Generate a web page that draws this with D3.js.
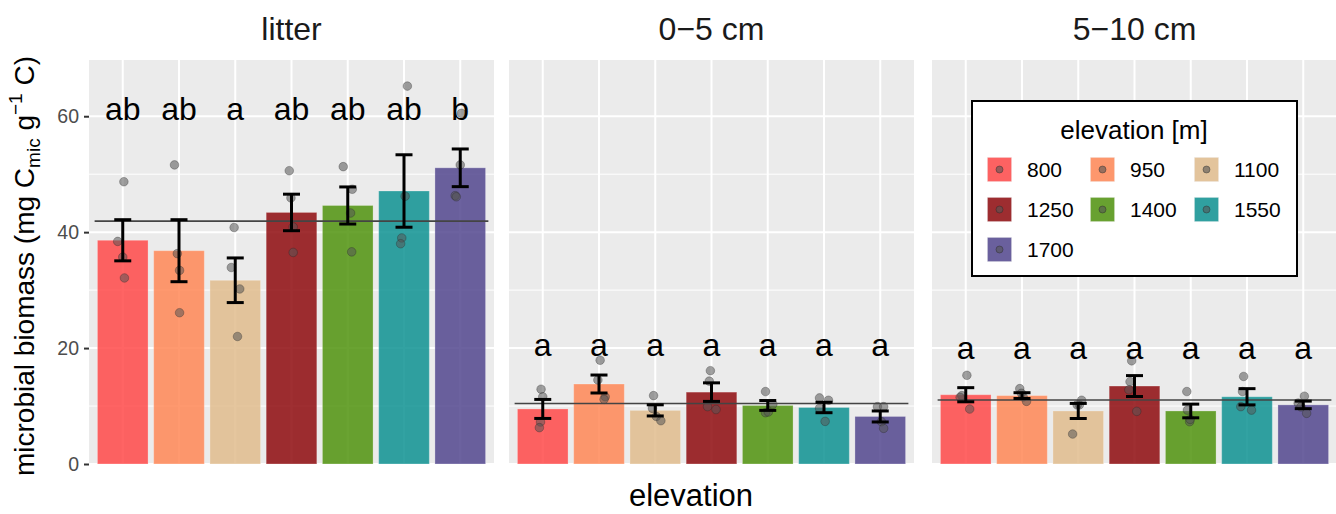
<!DOCTYPE html>
<html>
<head>
<meta charset="utf-8">
<style>
  body { margin: 0; background: #fff; }
  svg { font-family: "Liberation Sans", Arial, sans-serif; }
</style>
</head>
<body>
<svg id="chart" width="1336" height="514"></svg>
<script src="https://cdn.jsdelivr.net/npm/d3@7/dist/d3.min.js"></script>
<script>
// categories
const elevations = ["800", "950", "1100", "1250", "1400", "1550", "1700"]
const depths = ["litter", "0\u22125 cm", "5\u221210 cm"]
const colors = ["#ff4949", "#ff8756", "#e0bc8d", "#8e0a0e", "#50930e", "#0e9292", "#52468e"]

// bar means per depth
const meanLitter = [38.6, 36.8, 31.7, 43.4, 44.6, 47.1, 51.1]
const mean0to5 = [9.5, 13.8, 9.25, 12.4, 10.1, 9.75, 8.2]
const mean5to10 = [11.95, 11.8, 9.15, 13.45, 9.15, 11.6, 10.2]

// standard error (half height of the error bars)
const seLitter = [3.55, 5.35, 3.85, 3.15, 3.2, 6.25, 3.25]
const se0to5 = [1.64, 1.55, 0.96, 1.6, 0.85, 0.9, 0.95]
const se5to10 = [1.22, 0.5, 1.3, 1.8, 1.18, 1.4, 0.65]

// single replicates (4 per elevation)
const ptsLitter = [
    [48.7, 38.4, 35.7, 32.1], [51.6, 36.3, 33.4, 26.1], [40.8, 33.9, 30.2, 22.0],
    [50.6, 45.9, 40.9, 36.5], [51.3, 47.4, 43.3, 36.6], [65.2, 46.2, 39.0, 38.0],
    [60.5, 51.6, 46.3, 46.1]]
const pts0to5 = [
    [12.9, 11.6, 7.24, 6.27], [17.9, 14.5, 11.6, 11.15], [11.8, 9.6, 8.2, 7.47],
    [16.1, 14.3, 9.9, 9.4], [12.5, 10.3, 8.85, 8.97], [11.4, 11.0, 9.6, 7.35],
    [9.9, 9.9, 7.3, 6.15]]
const pts5to10 = [
    [15.3, 11.8, 11.5, 9.48], [13.0, 12.2, 10.8, 11.6], [11.0, 10.2, 10.2, 5.17],
    [17.8, 14.2, 12.8, 9.08], [12.5, 9.3, 7.3, 7.7], [15.1, 9.9, 9.3, 12.5],
    [11.7, 10.5, 8.74, 9.86]]
// horizontal jitter of the replicates (in category steps)
const jitLitter = [
    [0.02, -0.09, 0.0, 0.03], [-0.08, -0.03, 0.01, 0.01], [-0.02, -0.07, 0.08, 0.04],
    [-0.04, -0.01, 0.03, 0.03], [-0.08, 0.08, 0.05, 0.07], [0.06, 0.02, -0.04, -0.06],
    [0.02, 0.0, -0.09, -0.07]]
const jit0to5 = [
    [-0.03, 0.0, -0.04, -0.06], [0.02, -0.02, 0.11, 0.09], [-0.03, -0.05, 0.02, 0.1],
    [-0.02, -0.04, -0.07, 0.08], [-0.04, 0.09, -0.04, 0.01], [-0.08, 0.08, -0.08, 0.02],
    [-0.05, 0.06, 0.02, 0.06]]
const jit5to10 = [
    [0.02, -0.07, -0.1, 0.07], [-0.04, -0.01, 0.08, 0.02], [0.06, 0.02, -0.02, -0.1],
    [-0.05, -0.08, -0.1, 0.04], [-0.07, -0.06, -0.02, -0.01], [-0.06, -0.11, 0.08, -0.08],
    [0.02, -0.09, 0.06, -0.04]]

// significance letters and their height
const lettersLitter = ["ab", "ab", "a", "ab", "ab", "ab", "b"]
const letters0to5 = ["a", "a", "a", "a", "a", "a", "a"]
const letters5to10 = ["a", "a", "a", "a", "a", "a", "a"]
const letterY = [59.3, 18.7, 18.1]

const yTicks = [0, 20, 40, 60]

const panels = [
    { name: depths[0], mean: meanLitter, se: seLitter, pts: ptsLitter, jit: jitLitter, letters: lettersLitter },
    { name: depths[1], mean: mean0to5, se: se0to5, pts: pts0to5, jit: jit0to5, letters: letters0to5 },
    { name: depths[2], mean: mean5to10, se: se5to10, pts: pts5to10, jit: jit5to10, letters: letters5to10 }
]

let svg = d3.select("#chart")
let panelLeft = [89, 509, 932]
let panelWidth = 405
let panelTop = 60, panelBottom = 464

let y = d3.scaleLinear().domain([0, 69.7]).range([panelBottom, panelTop])
let colorScale = d3.scaleOrdinal().domain(elevations).range(colors)

panels.forEach((p, k) => {
    let x = d3.scalePoint()
        .domain(elevations)
        .range([panelLeft[k], panelLeft[k] + panelWidth])
        .padding(0.6)
    let step = x.step()
    let barW = step * 0.9
    let g = svg.append("g")

    g.append("rect")
        .attr("x", panelLeft[k]).attr("y", panelTop)
        .attr("width", panelWidth).attr("height", panelBottom - panelTop)
        .attr("fill", "#ebebeb")

    // minor grid
    g.selectAll(".minor").data([10, 30, 50]).enter().append("line")
        .attr("x1", panelLeft[k]).attr("x2", panelLeft[k] + panelWidth)
        .attr("y1", d => y(d)).attr("y2", d => y(d))
        .attr("stroke", "#fff").attr("stroke-width", 1)
    // major grid
    g.selectAll(".major").data(yTicks).enter().append("line")
        .attr("x1", panelLeft[k]).attr("x2", panelLeft[k] + panelWidth)
        .attr("y1", d => y(d)).attr("y2", d => y(d))
        .attr("stroke", "#fff").attr("stroke-width", 2)
    g.selectAll(".vgrid").data(elevations).enter().append("line")
        .attr("x1", d => x(d)).attr("x2", d => x(d))
        .attr("y1", panelTop).attr("y2", panelBottom)
        .attr("stroke", "#fff").attr("stroke-width", 2)

    // bars
    g.selectAll(".bar").data(elevations).enter().append("rect")
        .attr("x", d => x(d) - barW / 2)
        .attr("width", barW)
        .attr("y", (d, i) => y(p.mean[i]))
        .attr("height", (d, i) => y(0) - y(p.mean[i]))
        .attr("fill", d => colorScale(d))
        .attr("fill-opacity", 0.85)
        .attr("stroke", "#fff").attr("stroke-opacity", 0.25)

    // replicates
    elevations.forEach((e, i) => {
        g.selectAll(".pt" + i).data(p.pts[i]).enter().append("circle")
            .attr("cx", (d, j) => x(e) + p.jit[i][j] * step)
            .attr("cy", d => y(d))
            .attr("r", 4.3)
            .attr("fill", "#555")
            .attr("fill-opacity", 0.55)
            .attr("stroke", "#222")
            .attr("stroke-opacity", 0.3)
    })

    // grand mean line
    let grand = d3.mean(p.mean)
    g.append("line")
        .attr("x1", x(elevations[0]) - step / 2)
        .attr("x2", x(elevations[elevations.length - 1]) + step / 2)
        .attr("y1", y(grand)).attr("y2", y(grand))
        .attr("stroke", "#444").attr("stroke-width", 1.6)

    // error bars
    let cap = 8.5
    let eb = g.selectAll(".eb").data(elevations).enter().append("g")
        .attr("stroke", "#000").attr("stroke-width", 3)
    eb.append("line")
        .attr("x1", d => x(d)).attr("x2", d => x(d))
        .attr("y1", (d, i) => y(p.mean[i] + p.se[i]))
        .attr("y2", (d, i) => y(p.mean[i] - p.se[i]))
    eb.append("line")
        .attr("x1", d => x(d) - cap).attr("x2", d => x(d) + cap)
        .attr("y1", (d, i) => y(p.mean[i] + p.se[i]))
        .attr("y2", (d, i) => y(p.mean[i] + p.se[i]))
    eb.append("line")
        .attr("x1", d => x(d) - cap).attr("x2", d => x(d) + cap)
        .attr("y1", (d, i) => y(p.mean[i] - p.se[i]))
        .attr("y2", (d, i) => y(p.mean[i] - p.se[i]))

    // letters
    g.selectAll(".letter").data(elevations).enter().append("text")
        .attr("x", d => x(d))
        .attr("y", y(letterY[k]))
        .attr("text-anchor", "middle")
        .attr("font-size", 32)
        .attr("fill", "#000")
        .text((d, i) => p.letters[i])

    // strip title
    svg.append("text")
        .attr("x", panelLeft[k] + panelWidth / 2)
        .attr("y", 40)
        .attr("text-anchor", "middle")
        .attr("font-size", 32)
        .attr("fill", "#1a1a1a")
        .text(p.name)
})

// y axis (first panel only)
let yAxis = svg.append("g")
    .attr("transform", "translate(" + panelLeft[0] + ",0)")
    .call(d3.axisLeft(y).tickValues(yTicks).tickSize(5).tickPadding(5))
yAxis.select(".domain").remove()
yAxis.selectAll(".tick line").attr("stroke", "#333").attr("stroke-width", 2)
yAxis.selectAll(".tick text")
    .attr("fill", "#4d4d4d")
    .attr("font-size", 19.5)
    .attr("font-family", "Liberation Sans, Arial, sans-serif")

// axis titles
svg.append("text")
    .attr("x", 691).attr("y", 506)
    .attr("text-anchor", "middle")
    .attr("font-size", 31)
    .text("elevation")

let yt = svg.append("text")
    .attr("transform", "translate(34,266) rotate(-90)")
    .attr("text-anchor", "middle")
    .attr("font-size", 28)
yt.append("tspan").text("microbial biomass (mg C")
yt.append("tspan").attr("font-size", 19).attr("dy", 6).text("mic")
yt.append("tspan").attr("dy", -6).text(" g")
yt.append("tspan").attr("font-size", 19).attr("dy", -12).text("\u22121")
yt.append("tspan").attr("dy", 12).text(" C)")

// legend
let lg = svg.append("g").attr("transform", "translate(972,101)")
lg.append("rect")
    .attr("width", 325).attr("height", 175)
    .attr("fill", "#fff").attr("stroke", "#000").attr("stroke-width", 2)
lg.append("text")
    .attr("x", 162).attr("y", 38)
    .attr("text-anchor", "middle")
    .attr("font-size", 26)
    .text("elevation [m]")
let colX = [15, 118, 222]
let key = lg.selectAll(".key").data(elevations).enter().append("g")
    .attr("transform", (d, i) => "translate(" + colX[i % 3] + "," + (56 + Math.floor(i / 3) * 40) + ")")
key.append("rect")
    .attr("width", 25).attr("height", 25)
    .attr("fill", "#f2f2f2")
key.append("rect")
    .attr("x", 0.5).attr("y", 0.5)
    .attr("width", 24).attr("height", 24)
    .attr("fill", d => colorScale(d)).attr("fill-opacity", 0.85)
    .attr("stroke", "#fff").attr("stroke-opacity", 0.25)
key.append("circle")
    .attr("cx", 12.5).attr("cy", 12.5).attr("r", 3.5)
    .attr("fill", "#555").attr("fill-opacity", 0.6)
    .attr("stroke", "#222").attr("stroke-opacity", 0.4)
key.append("text")
    .attr("x", 40).attr("y", 20)
    .attr("font-size", 21)
    .text(d => d)
</script>
</body>
</html>
